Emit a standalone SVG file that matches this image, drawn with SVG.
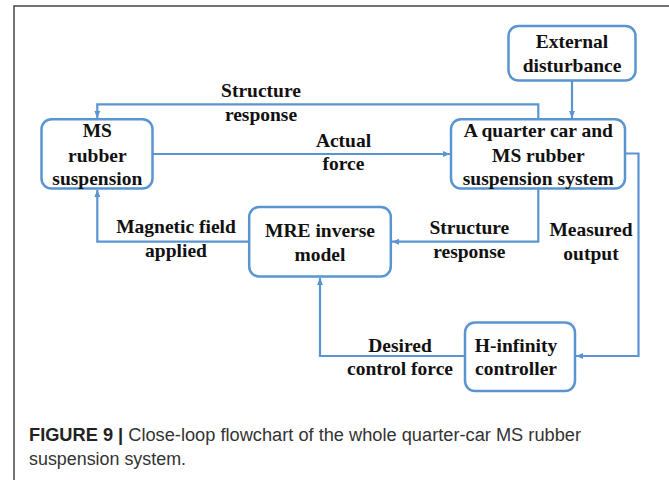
<svg xmlns="http://www.w3.org/2000/svg" width="669" height="480" viewBox="0 0 669 480">
<defs>
<marker id="ah" markerWidth="8" markerHeight="8" refX="7" refY="4" orient="auto" markerUnits="userSpaceOnUse">
<path d="M0,1 L7,4 L0,7 Z" fill="#5b95d1"/>
</marker>
<style>
.box{fill:#fff;stroke:#5b95d1;stroke-width:2.5}
.ln{fill:none;stroke:#5b95d1;stroke-width:2.2;marker-end:url(#ah)}
.t{font-family:"Liberation Serif","Times New Roman",serif;font-weight:bold;font-size:19.5px;fill:#111;text-anchor:middle}
.cap{font-family:"Liberation Sans",Arial,sans-serif;font-size:18px;fill:#333}
</style>
</defs>
<rect x="0" y="0" width="669" height="480" fill="#fff"/>
<rect x="14" y="6" width="700" height="520" fill="none" stroke="#444" stroke-width="1.5"/>

<g id="connectors">
<path class="ln" d="M538.3,119.3 V104.3 H97.3 V118"/>
<path class="ln" d="M153,154 H450"/>
<path class="ln" d="M572,80.7 V118"/>
<path class="ln" d="M625,153.5 H638.5 V356 H576"/>
<path class="ln" d="M538.3,188.7 V241.7 H392"/>
<path class="ln" d="M249,241.7 H97.3 V190"/>
<path class="ln" d="M465,356 H320 V278"/>
<text class="t" x="261" y="97.3">Structure</text>
<text class="t" x="261" y="120.7">response</text>
<text class="t" x="343.5" y="146.7">Actual</text>
<text class="t" x="343.5" y="170">force</text>
<text class="t" x="591" y="236">Measured</text>
<text class="t" x="591" y="259.5">output</text>
<text class="t" x="469.3" y="234.3">Structure</text>
<text class="t" x="469.3" y="257.5">response</text>
<text class="t" x="176" y="233.3">Magnetic field</text>
<text class="t" x="176" y="256.7">applied</text>
<text class="t" x="400" y="351.7">Desired</text>
<text class="t" x="400" y="375">control force</text>
</g>

<g id="external">
<rect class="box" x="508.5" y="26" width="127" height="54.5" rx="10"/>
<text class="t" x="572" y="48.3">External</text>
<text class="t" x="572" y="72.3">disturbance</text>
</g>
<g id="ms-rubber">
<rect class="box" x="41.5" y="119.3" width="111" height="69.2" rx="10"/>
<text class="t" x="97.3" y="137.3">MS</text>
<text class="t" x="97.3" y="161.5">rubber</text>
<text class="t" x="97.3" y="185">suspension</text>
</g>
<g id="quarter-car">
<rect class="box" x="451" y="119.3" width="174" height="69.2" rx="10"/>
<text class="t" x="538.3" y="137.3">A quarter car and</text>
<text class="t" x="538.3" y="161.5">MS rubber</text>
<text class="t" x="538.3" y="185">suspension system</text>
</g>
<g id="mre">
<rect class="box" x="249.2" y="207" width="141.6" height="69.5" rx="10"/>
<text class="t" x="320" y="237.3">MRE inverse</text>
<text class="t" x="320" y="260.7">model</text>
</g>
<g id="hinf">
<rect class="box" x="465" y="322.5" width="110" height="68.5" rx="10"/>
<text class="t" x="516" y="351.7">H-infinity</text>
<text class="t" x="516" y="375">controller</text>
</g>

<text class="cap" x="29" y="440.7" textLength="552" lengthAdjust="spacingAndGlyphs"><tspan font-weight="bold" fill="#222">FIGURE 9 |</tspan> Close-loop flowchart of the whole quarter-car MS rubber</text>
<text class="cap" x="29" y="465" textLength="157" lengthAdjust="spacingAndGlyphs">suspension system.</text>
</svg>
